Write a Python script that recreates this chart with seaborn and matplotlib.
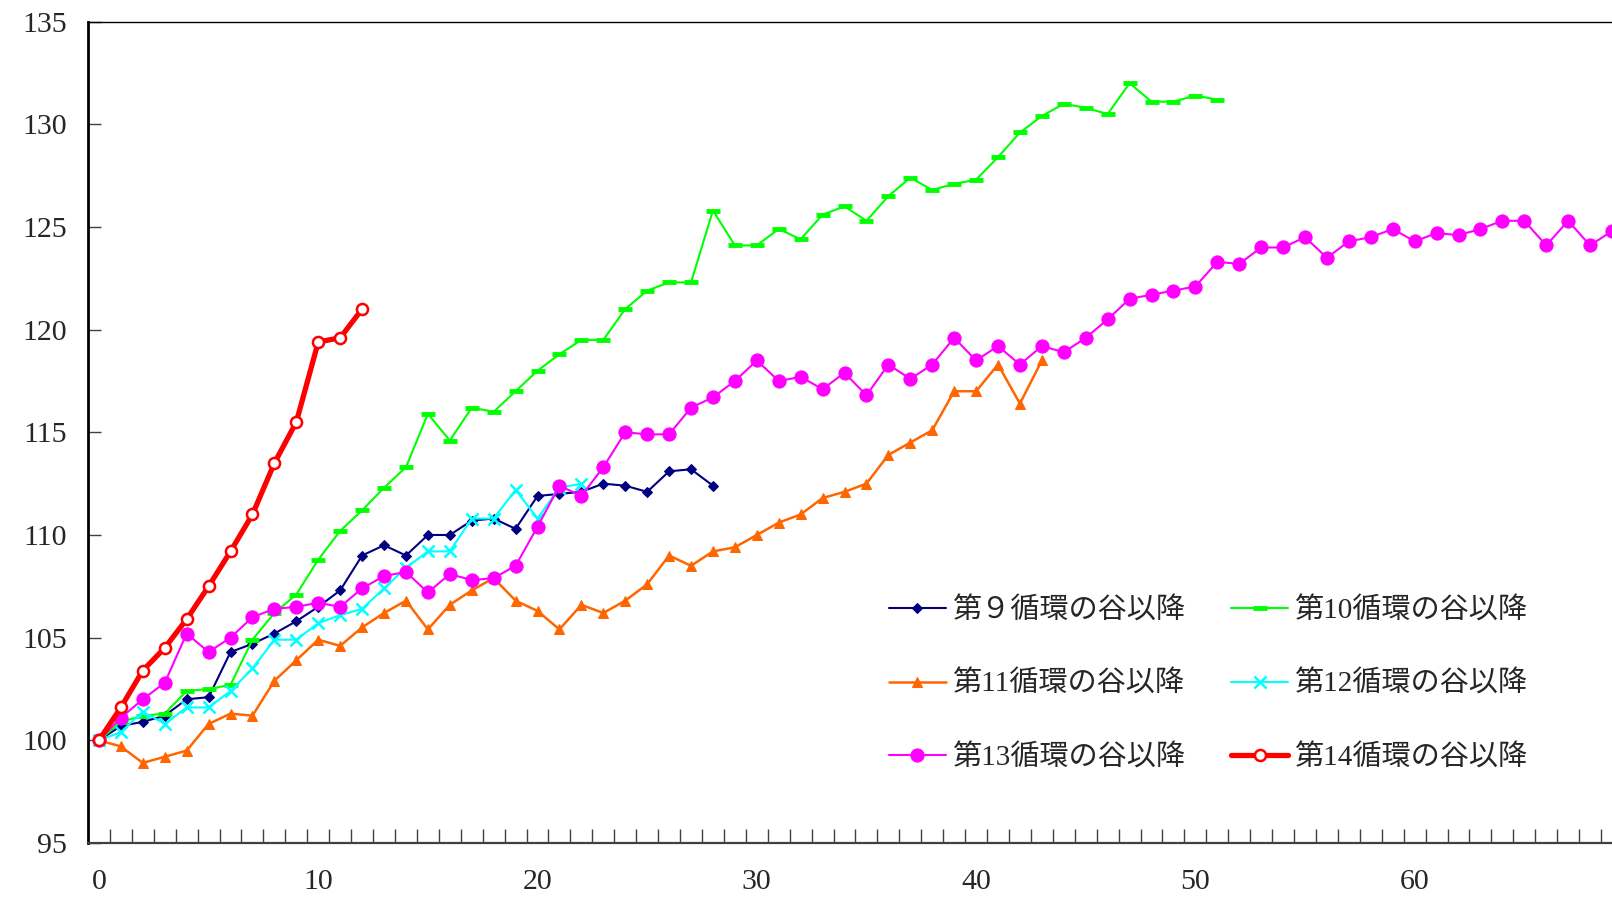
import numpy as np
import pandas as pd
import matplotlib
matplotlib.use("Agg")
import matplotlib.pyplot as plt
import seaborn as sns

# months since trough, index = 100 at trough
c9 = [100.0, 100.7, 100.9, 101.2, 102.0, 102.1, 104.3, 104.7, 105.2, 105.8,
      106.5, 107.3, 109.0, 109.5, 109.0, 110.0, 110.0, 110.7, 110.8, 110.3,
      111.9, 112.0, 112.1, 112.5, 112.4, 112.1, 113.1, 113.2, 112.4]
c10 = [100.0, 100.9, 101.2, 101.3, 102.4, 102.5, 102.7, 104.9, 106.2, 107.1,
       108.8, 110.2, 111.2, 112.3, 113.3, 115.9, 114.6, 116.2, 116.0, 117.0,
       118.0, 118.8, 119.5, 119.5, 121.0, 121.9, 122.3, 122.3, 125.8, 124.1,
       124.1, 124.9, 124.4, 125.6, 126.0, 125.3, 126.5, 127.4, 126.8, 127.1,
       127.3, 128.4, 129.6, 130.4, 131.0, 130.8, 130.5, 132.0, 131.1, 131.1,
       131.4, 131.2]
c11 = [100.0, 99.7, 98.9, 99.2, 99.5, 100.8, 101.3, 101.2, 102.9, 103.9,
       104.9, 104.6, 105.5, 106.2, 106.8, 105.4, 106.6, 107.3, 107.9, 106.8,
       106.3, 105.4, 106.6, 106.2, 106.8, 107.6, 109.0, 108.5, 109.2, 109.4,
       110.0, 110.6, 111.0, 111.8, 112.1, 112.5, 113.9, 114.5, 115.1, 117.0,
       117.0, 118.3, 116.4, 118.5]
c12 = [100.0, 100.4, 101.4, 100.8, 101.6, 101.6, 102.4, 103.5, 104.9, 104.9,
       105.7, 106.1, 106.4, 107.4, 108.4, 109.2, 109.2, 110.8, 110.8, 112.2,
       110.8, 112.3, 112.5]
c13 = [100.0, 101.1, 102.0, 102.8, 105.2, 104.3, 105.0, 106.0, 106.4, 106.5,
       106.7, 106.5, 107.4, 108.0, 108.2, 107.2, 108.1, 107.8, 107.9, 108.5,
       110.4, 112.4, 111.9, 113.3, 115.0, 114.9, 114.9, 116.2, 116.7, 117.5,
       118.5, 117.5, 117.7, 117.1, 117.9, 116.8, 118.3, 117.6, 118.3, 119.6,
       118.5, 119.2, 118.3, 119.2, 118.9, 119.6, 120.5, 121.5, 121.7, 121.9,
       122.1, 123.3, 123.2, 124.0, 124.0, 124.5, 123.5, 124.3, 124.5, 124.9,
       124.3, 124.7, 124.6, 124.9, 125.3, 125.3, 124.1, 125.3, 124.1, 124.8]
c14 = [100.0, 101.6, 103.4, 104.5, 105.9, 107.5, 109.2, 111.0, 113.5, 115.5,
       119.4, 119.6, 121.0]

labels = ["第９循環の谷以降", "第10循環の谷以降", "第11循環の谷以降",
          "第12循環の谷以降", "第13循環の谷以降", "第14循環の谷以降"]
series = [c9, c10, c11, c12, c13, c14]

styles = [
    dict(color="#000080", lw=1.5, marker="D", ms=5.5),
    dict(color="#00FF00", lw=1.5, marker="_", ms=9.5, mew=3.5),
    dict(color="#FF6600", lw=1.8, marker="^", ms=7.5),
    dict(color="#00FFFF", lw=1.5, marker="x", ms=9, mew=1.8),
    dict(color="#FF00FF", lw=1.5, marker="o", ms=9.5),
    dict(color="#FF0000", lw=3.8, marker="o", ms=8, mfc="white", mew=1.8),
]

sns.set_style("white")
plt.rcParams["font.family"] = ["Liberation Serif", "Noto Sans CJK JP", "DejaVu Sans"]

fig = plt.figure(figsize=(16.12, 8.99), dpi=100)
ax = fig.add_axes([88 / 1612, 1 - 843 / 899, 1 - 88 / 1612, (843 - 21.6) / 899])

for vals, lab, st in zip(series, labels, styles):
    df = pd.DataFrame({"month": np.arange(len(vals)), "value": vals})
    st = dict(st)
    color = st.pop("color")
    lw = st.pop("lw")
    mfc = st.pop("mfc", color)
    sns.lineplot(data=df, x="month", y="value", ax=ax, color=color, linewidth=lw,
                 mfc=mfc, mec=color, label=lab, **st)

ax.set_xlim(-0.5, 69.0)
ax.set_ylim(95, 135)
ax.set_xlabel("")
ax.set_ylabel("")
ax.set_yticks(range(95, 136, 5))
ax.set_xticks(range(0, 61, 10))
ax.set_xticks(np.arange(0.5, 69, 1), minor=True)
ax.tick_params(axis="y", left=True, direction="in", length=9, width=1,
               color="#404040", labelsize=21.5, pad=15)
ax.tick_params(axis="x", which="major", bottom=True, length=0, labelsize=21.5, pad=19)
ax.tick_params(axis="x", which="minor", bottom=True, direction="in", length=10,
               width=1, color="#404040")

ax.spines["left"].set_linewidth(2.0)
ax.spines["left"].set_color("black")
ax.spines["bottom"].set_linewidth(1.6)
ax.spines["bottom"].set_color("#404040")
ax.spines["top"].set_linewidth(1.0)
ax.spines["top"].set_color("black")
ax.spines["right"].set_visible(False)

handles, labs = ax.get_legend_handles_labels()
order = [0, 2, 4, 1, 3, 5]
ax.legend([handles[i] for i in order], [labs[i] for i in order],
          ncol=2, frameon=False, fontsize=21,
          loc="upper left", bbox_to_anchor=(889 / 1612, 1 - 597 / 899),
          bbox_transform=fig.transFigure, borderaxespad=0, borderpad=0,
          handlelength=1.95, handletextpad=0.2, columnspacing=1.6,
          labelspacing=1.6)

fig.savefig("out.png", dpi=100)
